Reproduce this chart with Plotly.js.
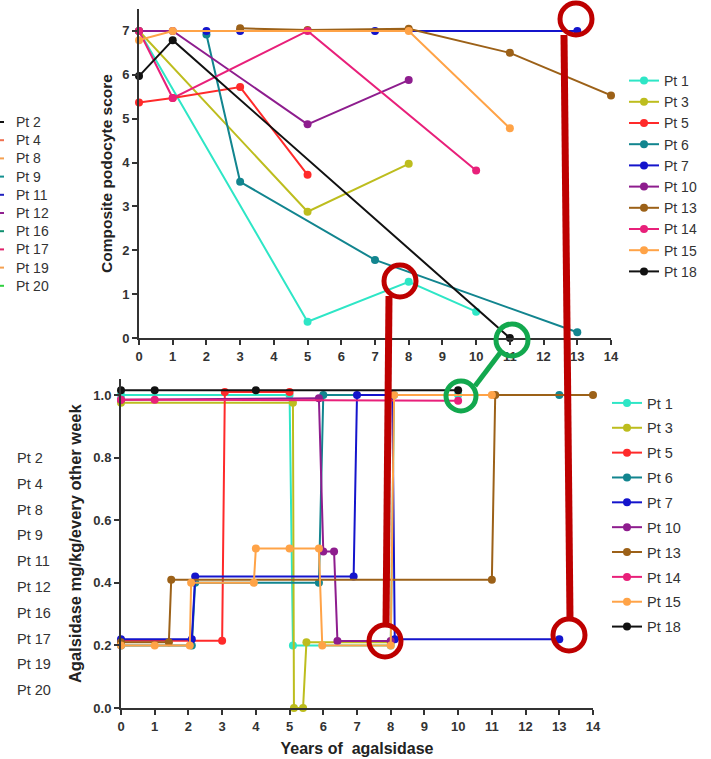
<!DOCTYPE html>
<html><head><meta charset="utf-8">
<script src="https://cdn.plot.ly/plotly-3.0.1.min.js"></script>
<style>html,body{margin:0;padding:0;background:#fff}#chart{width:711px;height:759px}</style>
</head><body><div id="chart"></div>
<script>
// ---- Data ----
const patients = ['Pt 1','Pt 3','Pt 5','Pt 6','Pt 7','Pt 10','Pt 13','Pt 14','Pt 15','Pt 18'];
const colors = ['#2EE6C6','#BDBD1E','#FF2A2A','#12858F','#1414CC','#8E1D8E','#9C6118','#E8207A','#FFA347','#111111'];

// Top: composite podocyte score vs years
const scoreX_pt1 = [0,5,8,10],            scoreY_pt1 = [7,0.37,1.28,0.6];
const scoreX_pt3 = [0,5,8],               scoreY_pt3 = [7,2.88,3.97];
const scoreX_pt5 = [0,1,3,5],             scoreY_pt5 = [5.37,5.47,5.72,3.72];
const scoreX_pt6 = [2,3,7,13],            scoreY_pt6 = [6.92,3.56,1.78,0.13];
const scoreX_pt7 = [2,3,7,13],            scoreY_pt7 = [7,7,7,7];
const scoreX_pt10 = [0,1,5,8],            scoreY_pt10 = [7,7,4.87,5.88];
const scoreX_pt13 = [3,5,8,11,14],        scoreY_pt13 = [7.06,7.02,7.05,6.5,5.53];
const scoreX_pt14 = [0,1,5,10],           scoreY_pt14 = [7,5.47,7,3.82];
const scoreX_pt15 = [0,1,8,11],           scoreY_pt15 = [6.79,7,7,4.78];
const scoreX_pt18 = [0,1,11],             scoreY_pt18 = [5.97,6.79,0];

// Bottom: agalsidase dose vs years
const doseX_pt1 = [0,5,5.1,8,8.1,10],                 doseY_pt1 = [1.0,1.0,0.2,0.2,1.0,1.0];
const doseX_pt3 = [0,5.1,5.13,5.4,5.5,8],             doseY_pt3 = [0.975,0.975,0,0,0.21,0.21];
const doseX_pt5 = [0,3,3.08,5],                       doseY_pt5 = [0.215,0.215,1.01,1.01];
const doseX_pt6 = [0,2.1,2.2,5.87,6,13],              doseY_pt6 = [0.2,0.2,0.4,0.4,1.0,1.0];
const doseX_pt7 = [0,2.1,2.2,6.9,7,8.05,8.12,13],     doseY_pt7 = [0.22,0.22,0.42,0.42,1.0,1.0,0.22,0.22];
const doseX_pt10 = [0,5.87,6,6.32,6.42,8],            doseY_pt10 = [0.985,0.99,0.5,0.5,0.214,0.214];
const doseX_pt13 = [0,1.42,1.49,11,11.1,14],          doseY_pt13 = [0.21,0.21,0.41,0.41,1.0,1.0];
const doseX_pt14 = [0,1,10],                          doseY_pt14 = [0.985,0.985,0.982];
const doseX_pt15 = [0,1,2.04,2.08,3.94,4,5,5.87,5.97,8,8.1,11],
      doseY_pt15 = [0.2,0.2,0.2,0.4,0.4,0.51,0.51,0.51,0.2,0.2,1.0,1.0];
const doseX_pt18 = [0,1,4,10],                        doseY_pt18 = [1.015,1.015,1.015,1.015];

const xTicks = [0,1,2,3,4,5,6,7,8,9,10,11,12,13,14];
const scoreTicks = [0,1,2,3,4,5,6,7];
const doseTicks = [0,0.2,0.4,0.6,0.8,1.0];

const leftTopLabels = ['Pt 2','Pt 4','Pt 8','Pt 9','Pt 11','Pt 12','Pt 16','Pt 17','Pt 19','Pt 20'];
const leftTopDash = ['#111','#F07050','#F5A050','#139090','#2020C0','#902090','#109070','#E0206A','#F5A050','#30D040'];
const leftBottomLabels = ['Pt 2','Pt 4','Pt 8','Pt 9','Pt 11','Pt 12','Pt 16','Pt 17','Pt 19','Pt 20'];

const scoreXs = [scoreX_pt1,scoreX_pt3,scoreX_pt5,scoreX_pt6,scoreX_pt7,scoreX_pt10,scoreX_pt13,scoreX_pt14,scoreX_pt15,scoreX_pt18];
const scoreYs = [scoreY_pt1,scoreY_pt3,scoreY_pt5,scoreY_pt6,scoreY_pt7,scoreY_pt10,scoreY_pt13,scoreY_pt14,scoreY_pt15,scoreY_pt18];
const doseXs = [doseX_pt1,doseX_pt3,doseX_pt5,doseX_pt6,doseX_pt7,doseX_pt10,doseX_pt13,doseX_pt14,doseX_pt15,doseX_pt18];
const doseYs = [doseY_pt1,doseY_pt3,doseY_pt5,doseY_pt6,doseY_pt7,doseY_pt10,doseY_pt13,doseY_pt14,doseY_pt15,doseY_pt18];

// ---- Build ----
const W = 711, H = 759;
const fx = p => p / W, fy = p => 1 - p / H;
const FONT = 'Liberation Sans, Arial, sans-serif';

const traces = [];
patients.forEach((name, i) => {
  traces.push({
    x: scoreXs[i], y: scoreYs[i], name: name, type: 'scatter', mode: 'lines+markers',
    xaxis: 'x', yaxis: 'y', legend: 'legend', legendgroup: 'a' + i,
    line: {color: colors[i], width: 2}, marker: {color: colors[i], size: 8},
    cliponaxis: false
  });
});
patients.forEach((name, i) => {
  traces.push({
    x: doseXs[i], y: doseYs[i], name: name, type: 'scatter', mode: 'lines+markers',
    xaxis: 'x2', yaxis: 'y2', legend: 'legend2', legendgroup: 'b' + i,
    line: {color: colors[i], width: 2}, marker: {color: colors[i], size: 8},
    cliponaxis: false
  });
});

const tickFont = {family: FONT, size: 13, color: '#333', weight: 'bold'};
const axBase = {
  showline: true, linecolor: '#333', linewidth: 2, ticks: 'outside', ticklen: 5, tickwidth: 2,
  tickcolor: '#333', showgrid: false, zeroline: false, tickfont: tickFont, fixedrange: true
};

const annotations = [];
leftTopLabels.forEach((t, i) => {
  annotations.push({
    xref: 'paper', yref: 'paper', x: fx(14), y: fy(122 + i * 18.2), xanchor: 'left', yanchor: 'middle',
    text: t, showarrow: false, font: {family: FONT, size: 14, color: '#333'}
  });
});
leftBottomLabels.forEach((t, i) => {
  annotations.push({
    xref: 'paper', yref: 'paper', x: fx(15), y: fy(458 + i * 25.8), xanchor: 'left', yanchor: 'middle',
    text: t, showarrow: false, font: {family: FONT, size: 14.5, color: '#333'}
  });
});

const shapes = [];
leftTopDash.forEach((c, i) => {
  shapes.push({type: 'line', xref: 'paper', yref: 'paper',
    x0: fx(0), x1: fx(4), y0: fy(122 + i * 18.2), y1: fy(122 + i * 18.2), line: {color: c, width: 2}});
});
const RED = '#BE0000', GREEN = '#12A84E';
function circ(cx, cy, r, col, w) {
  return {type: 'circle', xref: 'paper', yref: 'paper', x0: fx(cx - r), x1: fx(cx + r), y0: fy(cy + r), y1: fy(cy - r),
    line: {color: col, width: w}, fillcolor: 'rgba(0,0,0,0)'};
}
function seg(x0, y0, x1, y1, col, w) {
  return {type: 'line', xref: 'paper', yref: 'paper', x0: fx(x0), x1: fx(x1), y0: fy(y0), y1: fy(y1), line: {color: col, width: w}};
}
shapes.push(seg(389, 296, 386, 626, RED, 7));
shapes.push(seg(564, 35, 570, 619, RED, 7));
shapes.push(circ(400, 281, 16, RED, 5));
shapes.push(circ(385, 641, 16, RED, 5));
shapes.push(circ(576, 19, 16, RED, 5));
shapes.push(circ(569, 635, 16, RED, 5));
shapes.push(seg(475, 386, 500, 353, GREEN, 5));
shapes.push(circ(512, 340, 16, GREEN, 5));
shapes.push(circ(461, 396, 15, GREEN, 5));

const layout = {
  width: W, height: H, margin: {l: 0, r: 0, t: 0, b: 0},
  paper_bgcolor: '#fff', plot_bgcolor: 'rgba(0,0,0,0)',
  font: {family: FONT, color: '#333'},
  showlegend: true,
  xaxis: Object.assign({}, axBase, {domain: [fx(139), fx(611)], range: [0, 14], anchor: 'y', tickvals: xTicks}),
  yaxis: Object.assign({}, axBase, {domain: [fy(338), fy(9)], range: [0, 7.5], anchor: 'x', tickvals: scoreTicks,
    title: {text: 'Composite podocyte score', font: {family: FONT, size: 15.5, color: '#222', weight: 'bold'}, standoff: 6}}),
  xaxis2: Object.assign({}, axBase, {domain: [fx(121), fx(593)], range: [0, 14], anchor: 'y2', tickvals: xTicks,
    title: {text: 'Years of  agalsidase', font: {family: FONT, size: 16, color: '#222', weight: 'bold'}, standoff: 10}}),
  yaxis2: Object.assign({}, axBase, {domain: [fy(708), fy(379.4)], range: [0, 1.05], anchor: 'x2', tickvals: doseTicks,
    tickformat: '.1f',
    title: {text: 'Agalsidase mg/kg/every other week', font: {family: FONT, size: 16.5, color: '#222', weight: 'bold'}, standoff: 8}}),
  legend: {x: fx(624), y: fy(65), xanchor: 'left', yanchor: 'top', bgcolor: 'rgba(0,0,0,0)',
    font: {family: FONT, size: 14, color: '#333'}, tracegroupgap: 0, itemwidth: 30},
  legend2: {x: fx(607), y: fy(387), xanchor: 'left', yanchor: 'top', bgcolor: 'rgba(0,0,0,0)',
    font: {family: FONT, size: 14.5, color: '#333'}, tracegroupgap: 3, itemwidth: 30},
  annotations: annotations,
  shapes: shapes
};

Plotly.newPlot('chart', traces, layout, {displayModeBar: false, staticPlot: true});
</script>
</body></html>
